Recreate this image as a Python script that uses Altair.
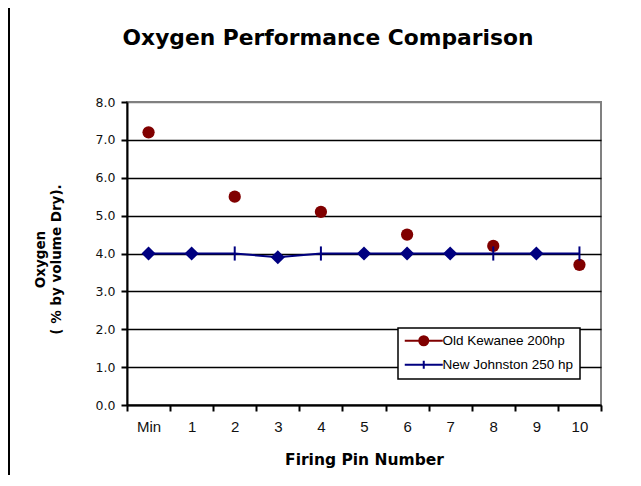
import altair as alt
import pandas as pd

categories = ["Min", "1", "2", "3", "4", "5", "6", "7", "8", "9", "10"]
old_kewanee = [7.2, None, 5.5, None, 5.1, None, 4.5, None, 4.2, None, 3.7]
new_johnston = [4.0, 4.0, 4.0, 3.9, 4.0, 4.0, 4.0, 4.0, 4.0, 4.0, 4.0]
nj_marker = ["diamond", "diamond", "tick", "diamond", "tick", "diamond",
             "diamond", "diamond", "tick", "diamond", "tick"]
series_names = ["Old Kewanee 200hp", "New Johnston 250 hp"]
y_ticks = [0, 1, 2, 3, 4, 5, 6, 7, 8]

old_df = pd.DataFrame({"pin": categories, "oxygen": old_kewanee}).dropna()
new_df = pd.DataFrame({"pin": categories, "oxygen": new_johnston, "marker": nj_marker})
legend_df = pd.DataFrame({"series": series_names})
frame_df = pd.DataFrame({"k": [0]})

RED = "#800000"
NAVY = "#000080"

x_enc = alt.X(
    "pin:N",
    sort=categories,
    scale=alt.Scale(type="band", domain=categories, paddingInner=0, paddingOuter=0),
    axis=alt.Axis(
        title="Firing Pin Number",
        tickBand="extent",
        labelAngle=0,
        labelFont="Liberation Sans",
        labelFontSize=15,
        labelColor="#111111",
        labelPadding=8,
        labelOverlap=False,
        tickSize=6,
        tickWidth=2,
        tickColor="black",
        domainColor="black",
        domainWidth=2,
        grid=False,
        titleFont="DejaVu Sans",
        titleFontSize=15.5,
        titleFontWeight="bold",
        titleColor="black",
        titleBaseline="alphabetic",
        titleY=59,
    ),
)

y_enc = alt.Y(
    "oxygen:Q",
    scale=alt.Scale(domain=[0, 8], nice=False, zero=True),
    axis=alt.Axis(
        title=["Oxygen", "( % by volume Dry)."],
        values=y_ticks,
        format=".1f",
        labelFont="DejaVu Sans",
        labelFontSize=12.5,
        labelColor="#111111",
        labelPadding=6,
        labelOverlap=False,
        tickSize=6,
        tickWidth=2,
        tickColor="black",
        domainColor="black",
        domainWidth=2,
        grid=True,
        gridColor={"condition": {"test": "datum.value === 8", "value": "#808080"}, "value": "black"},
        gridWidth=1.5,
        titleFont="DejaVu Sans",
        titleFontSize=13.5,
        titleFontWeight="bold",
        titleColor="black",
        titleAngle=-90,
        titleAlign="center",
        titleBaseline="top",
        titleLineHeight=16,
        titleX=-94,
        titleY=157,
    ),
)

old_layer = alt.Chart(old_df).mark_point(
    shape="circle", filled=True, size=150, color=RED, opacity=1
).encode(x=x_enc, y=y_enc)

line_layer = alt.Chart(new_df).mark_line(color=NAVY, strokeWidth=2).encode(
    x=x_enc, y=y_enc
)

diamond_layer = alt.Chart(new_df).transform_filter(
    "datum.marker === 'diamond'"
).mark_point(shape="diamond", filled=True, size=200, color=NAVY, opacity=1).encode(
    x=x_enc, y=y_enc
)

tick_layer = alt.Chart(new_df).transform_filter(
    "datum.marker === 'tick'"
).mark_point(shape="M0,-1L0,1", filled=False, size=200, color=NAVY, strokeWidth=2, opacity=1).encode(
    x=x_enc, y=y_enc
)

path_old = "M-3.8,0H3.8M-0.9,0A0.9,0.9,0,1,0,0.9,0A0.9,0.9,0,1,0,-0.9,0Z"
path_new = "M-3.8,0H3.8M0,-0.8V0.8"

legend_props = dict(
    title=None,
    orient="none",
    legendX=271,
    legendY=226,
    fillColor="white",
    strokeColor="black",
    padding=6,
    labelFont="Liberation Sans",
    labelFontSize=13.5,
    labelColor="black",
    labelOffset=12,
    symbolSize=100,
    symbolOffset=13,
    symbolStrokeWidth=2,
    rowPadding=6,
)

legend_layer = alt.Chart(legend_df).transform_filter("false").mark_point(
    opacity=1, strokeWidth=2
).encode(
    fill=alt.Fill("series:N", scale=alt.Scale(domain=series_names, range=[RED, NAVY]),
                  legend=alt.Legend(**legend_props)),
    stroke=alt.Stroke("series:N", scale=alt.Scale(domain=series_names, range=[RED, NAVY]),
                      legend=alt.Legend(**legend_props)),
    shape=alt.Shape("series:N", scale=alt.Scale(domain=series_names, range=[path_old, path_new]),
                    legend=alt.Legend(**legend_props)),
)

frame_layer = alt.Chart(frame_df).mark_rule(color="black", strokeWidth=2).encode(
    x=alt.value(-118), y=alt.value(-94), y2=alt.value(376)
)

chart = alt.layer(
    frame_layer, old_layer, line_layer, diamond_layer, tick_layer, legend_layer
).properties(
    width=474,
    height=303,
    autosize=alt.AutoSizeParams(type="none"),
    padding={"left": 119, "top": 94, "right": 30, "bottom": 70},
    title=alt.TitleParams(
        "Oxygen Performance Comparison",
        font="DejaVu Sans",
        fontSize=21.8,
        fontWeight="bold",
        color="black",
        anchor="middle",
        dx=-36,
        offset=-60,
        baseline="alphabetic",
    ),
).configure(background="white").configure_view(
    fill="#C0C0C0", stroke="#808080", strokeWidth=2
).configure_legend(strokeWidth=1.5)

chart.save("out.html", embed_options={"renderer": "svg", "actions": False})
